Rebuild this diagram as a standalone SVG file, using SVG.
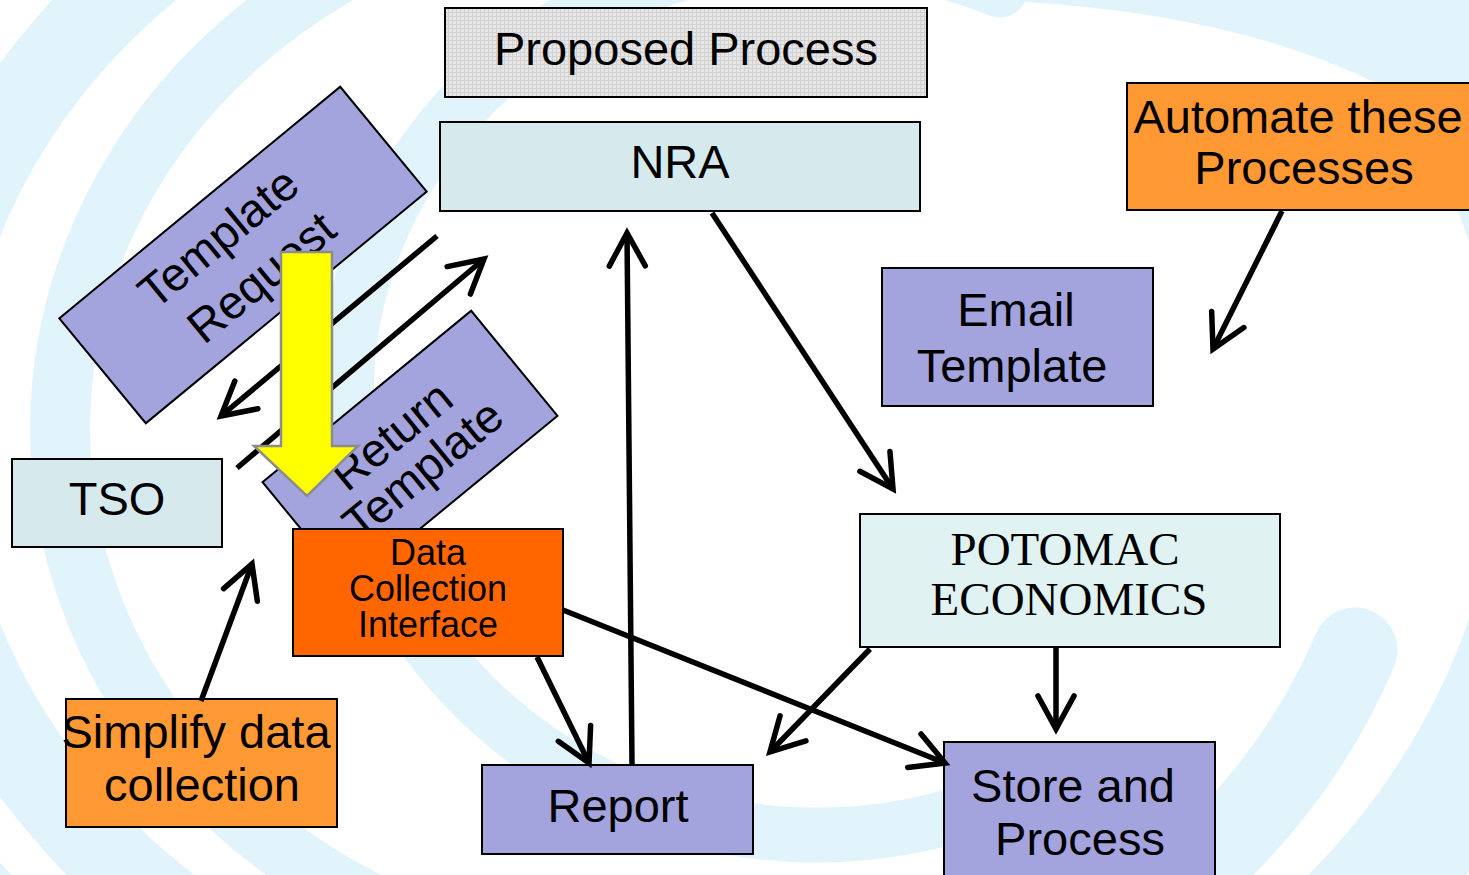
<svg xmlns="http://www.w3.org/2000/svg" width="1469" height="875" viewBox="0 0 1469 875">
<defs>
  <pattern id="grid" width="4" height="4" patternUnits="userSpaceOnUse">
    <rect width="4" height="4" fill="#e6e6e6"/>
    <path d="M0 0.5H4M0.5 0V4" stroke="#d2d2d2" stroke-width="1"/>
  </pattern>
  <marker id="ah" markerUnits="userSpaceOnUse" viewBox="-40 -25 48 50" refX="0" refY="0" markerWidth="48" markerHeight="50" orient="auto" overflow="visible">
    <path d="M-33,-18 L0,0 L-33,18" fill="none" stroke="#000" stroke-width="5.5" stroke-linecap="round" stroke-linejoin="miter"/>
  </marker>
</defs>
<style>
  .box{stroke:#000;stroke-width:2}
  .lt{fill:#d6eaee}
  .lt2{fill:#e1f2f2}
  .pu{fill:#a3a3de}
  .or{fill:#ff9933}
  .dor{fill:#ff6600}
  .t{font-family:"Liberation Sans",Arial,sans-serif;font-size:47px;fill:#000;text-anchor:middle}
  .ts{font-family:"Liberation Serif","Times New Roman",serif;font-size:47px;fill:#000;text-anchor:middle}
  .sm{font-size:36px}
  .ar{fill:none;stroke:#000;stroke-width:5.5;marker-end:url(#ah)}
  .bg{fill:none;stroke:#e2f4fb;stroke-linecap:round}
</style>
<rect width="1469" height="875" fill="#ffffff"/>
<g id="background">
  <path class="bg" d="M1000,-10 A470,440 0 1 0 1000,800" stroke-width="55"/>
  <path class="bg" d="M660,-110 A600,540 0 0 0 660,970" stroke-width="60"/>
  <path class="bg" d="M660,-210 A740,640 0 1 0 1355,650" stroke-width="85"/>
  <ellipse class="bg" cx="660" cy="430" rx="900" ry="760" stroke-width="120"/>
  <path d="M980,0 Q1300,10 1469,140 V0 Z" fill="#e2f4fb"/>
</g>
<g id="n-proposed"><rect class="box" x="445" y="8" width="482" height="89" fill="url(#grid)"/><text class="t" x="686" y="65">Proposed Process</text></g>
<g id="n-nra"><rect class="box lt" x="440" y="122" width="480" height="89"/><text class="t" x="680" y="178">NRA</text></g>
<g id="n-automate"><rect class="box or" x="1127" y="83" width="350" height="127"/><text class="t" x="1298" y="133">Automate these</text><text class="t" x="1304" y="184">Processes</text></g>
<g id="n-email"><rect class="box pu" x="882" y="268" width="271" height="138"/><text class="t" x="1016" y="326">Email</text><text class="t" x="1012" y="382">Template</text></g>
<g id="n-template-request" transform="translate(243,255) rotate(-39.5)"><rect class="box pu" x="-182" y="-68" width="364" height="136"/><text class="t" x="-8" y="-13">Template</text><text class="t" x="0" y="45">Request</text></g>
<g id="n-return-template" transform="translate(410,449) rotate(-39.4)"><rect class="box pu" x="-135" y="-68" width="270" height="136"/><text class="t" x="-6" y="-6">Return</text><text class="t" x="-3" y="40">Template</text></g>
<g id="n-tso"><rect class="box lt" x="12" y="459" width="210" height="88"/><text class="t" x="117" y="515">TSO</text></g>
<g id="n-dci"><rect class="box dor" x="293" y="529" width="270" height="127"/><text class="t sm" x="428" y="565">Data</text><text class="t sm" x="428" y="601">Collection</text><text class="t sm" x="428" y="637">Interface</text></g>
<g id="n-potomac"><rect class="box lt2" x="860" y="514" width="420" height="133"/><text class="ts" x="1065" y="565">POTOMAC</text><text class="ts" x="1069" y="615">ECONOMICS</text></g>
<g id="n-simplify"><rect class="box or" x="66" y="699" width="271" height="128"/><text class="t" x="196" y="748">Simplify data</text><text class="t" x="202" y="801">collection</text></g>
<g id="n-report"><rect class="box pu" x="482" y="765" width="271" height="89"/><text class="t" x="618" y="822">Report</text></g>
<g id="n-store"><rect class="box pu" x="944" y="742" width="271" height="140"/><text class="t" x="1073" y="802">Store and</text><text class="t" x="1080" y="855">Process</text></g>
<g id="connectors">
  <path class="ar" d="M712,213 L893,489"/>
  <path class="ar" d="M632,764 L627,233"/>
  <path class="ar" d="M437,236 L221,416"/>
  <path class="ar" d="M237,468 L484,259"/>
  <path class="ar" d="M201,701 L252,564"/>
  <path class="ar" d="M537,657 L589,763"/>
  <path class="ar" d="M563,610 L945,763"/>
  <path class="ar" d="M870,649 L770,752"/>
  <path class="ar" d="M1056,648 L1056,729"/>
  <path class="ar" d="M1282,211 L1213,349"/>
</g>
<g id="n-yellow-arrow"><path d="M281,252 H332 V446 H358 L307,496 L254,446 H281 Z" fill="#ffff00" stroke="#8c8c8c" stroke-width="2.5"/></g>
</svg>
